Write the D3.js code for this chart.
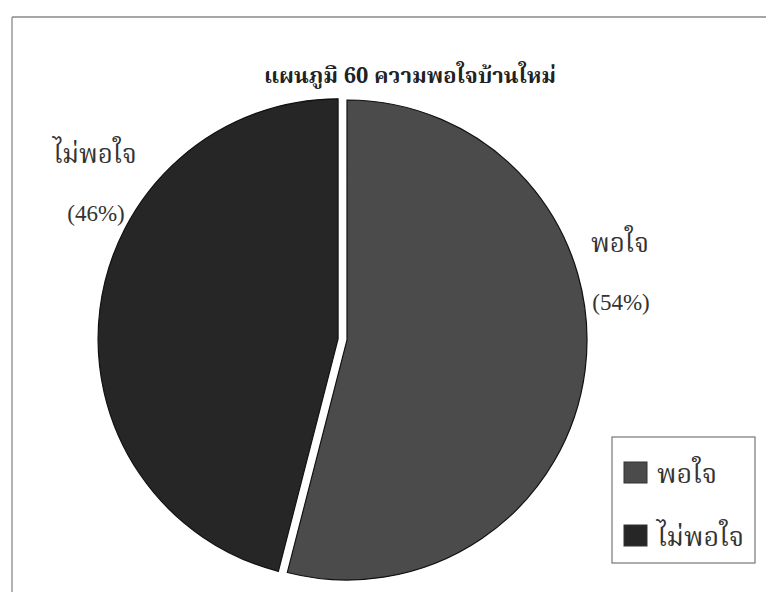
<!DOCTYPE html>
<html>
<head>
<meta charset="utf-8">
<script src="https://cdn.jsdelivr.net/npm/d3@7"></script>
<style>
  html, body { margin: 0; padding: 0; background: #fff; }
  svg { display: block; }
</style>
</head>
<body>
<svg id="chart" width="766" height="592"></svg>
<script>
const title = "แผนภูมิ 60 ความพอใจบ้านใหม่";
const categories = ["พอใจ", "ไม่พอใจ"];
const values = [54, 46];
const percentLabels = ["(54%)", "(46%)"];
const colors = ["#4b4b4b", "#262626"];

const W = 766, H = 592;
const svg = d3.select("#chart");
const thaiFont = "'Noto Serif Thai', 'Noto Sans Thai Looped', 'Norasi', 'Kinnari', 'Laksaman', 'Loma', 'Noto Sans Thai', 'Liberation Serif', serif";
const latinFont = "'Liberation Serif', 'Times New Roman', serif";

// frame
svg.append("line").attr("x1", 12).attr("y1", 17).attr("x2", W).attr("y2", 17)
  .attr("stroke", "#888").attr("stroke-width", 1.5);
svg.append("line").attr("x1", 12).attr("y1", 17).attr("x2", 12).attr("y2", H)
  .attr("stroke", "#999").attr("stroke-width", 1.5);

// title
svg.append("text").attr("x", 410).attr("y", 83)
  .attr("text-anchor", "middle")
  .style("font-family", thaiFont).style("font-size", "22px").style("font-weight", "bold")
  .attr("fill", "#222").text(title);

const cx = 347, cy = 340, r = 240;
const pie = d3.pie().sort(null).startAngle(0).endAngle(2 * Math.PI);
const arcs = pie(values);
const arc = d3.arc().innerRadius(0).outerRadius(r);
const explode = [0, 9];

const g = svg.append("g").attr("transform", `translate(${cx},${cy})`);
g.selectAll("path.slice").data(arcs).join("path")
  .attr("class", "slice")
  .attr("d", arc)
  .attr("transform", (d, i) => {
    const a = (d.startAngle + d.endAngle) / 2;
    return `translate(${explode[i] * Math.sin(a)},${-explode[i] * Math.cos(a)})`;
  })
  .attr("fill", (d, i) => colors[i])
  .attr("stroke", "#111").attr("stroke-width", 1.2);

// slice labels
const labelPos = [
  { x: 620, y: 252, px: 621, py: 310 },
  { x: 95, y: 163, px: 96, py: 221 }
];
arcs.forEach((d, i) => {
  svg.append("text").attr("x", labelPos[i].x).attr("y", labelPos[i].y)
    .attr("text-anchor", "middle")
    .style("font-family", thaiFont).style("font-size", "26px")
    .attr("fill", "#333").text(categories[i]);
  svg.append("text").attr("x", labelPos[i].px).attr("y", labelPos[i].py)
    .attr("text-anchor", "middle")
    .style("font-family", latinFont).style("font-size", "23px")
    .attr("fill", "#333").text(percentLabels[i]);
});

// legend
const lg = svg.append("g").attr("transform", "translate(612,437)");
lg.append("rect").attr("x", 0).attr("y", 0).attr("width", 143).attr("height", 126)
  .attr("fill", "#fff").attr("stroke", "#777").attr("stroke-width", 1.2);
categories.forEach((c, i) => {
  const yy = 25 + i * 63;
  lg.append("rect").attr("x", 12).attr("y", yy).attr("width", 23).attr("height", 21)
    .attr("fill", colors[i]).attr("stroke", "#333").attr("stroke-width", 1);
  lg.append("text").attr("x", 45).attr("y", yy + 21)
    .style("font-family", thaiFont).style("font-size", "27px")
    .attr("fill", "#333").text(c);
});
</script>
</body>
</html>
